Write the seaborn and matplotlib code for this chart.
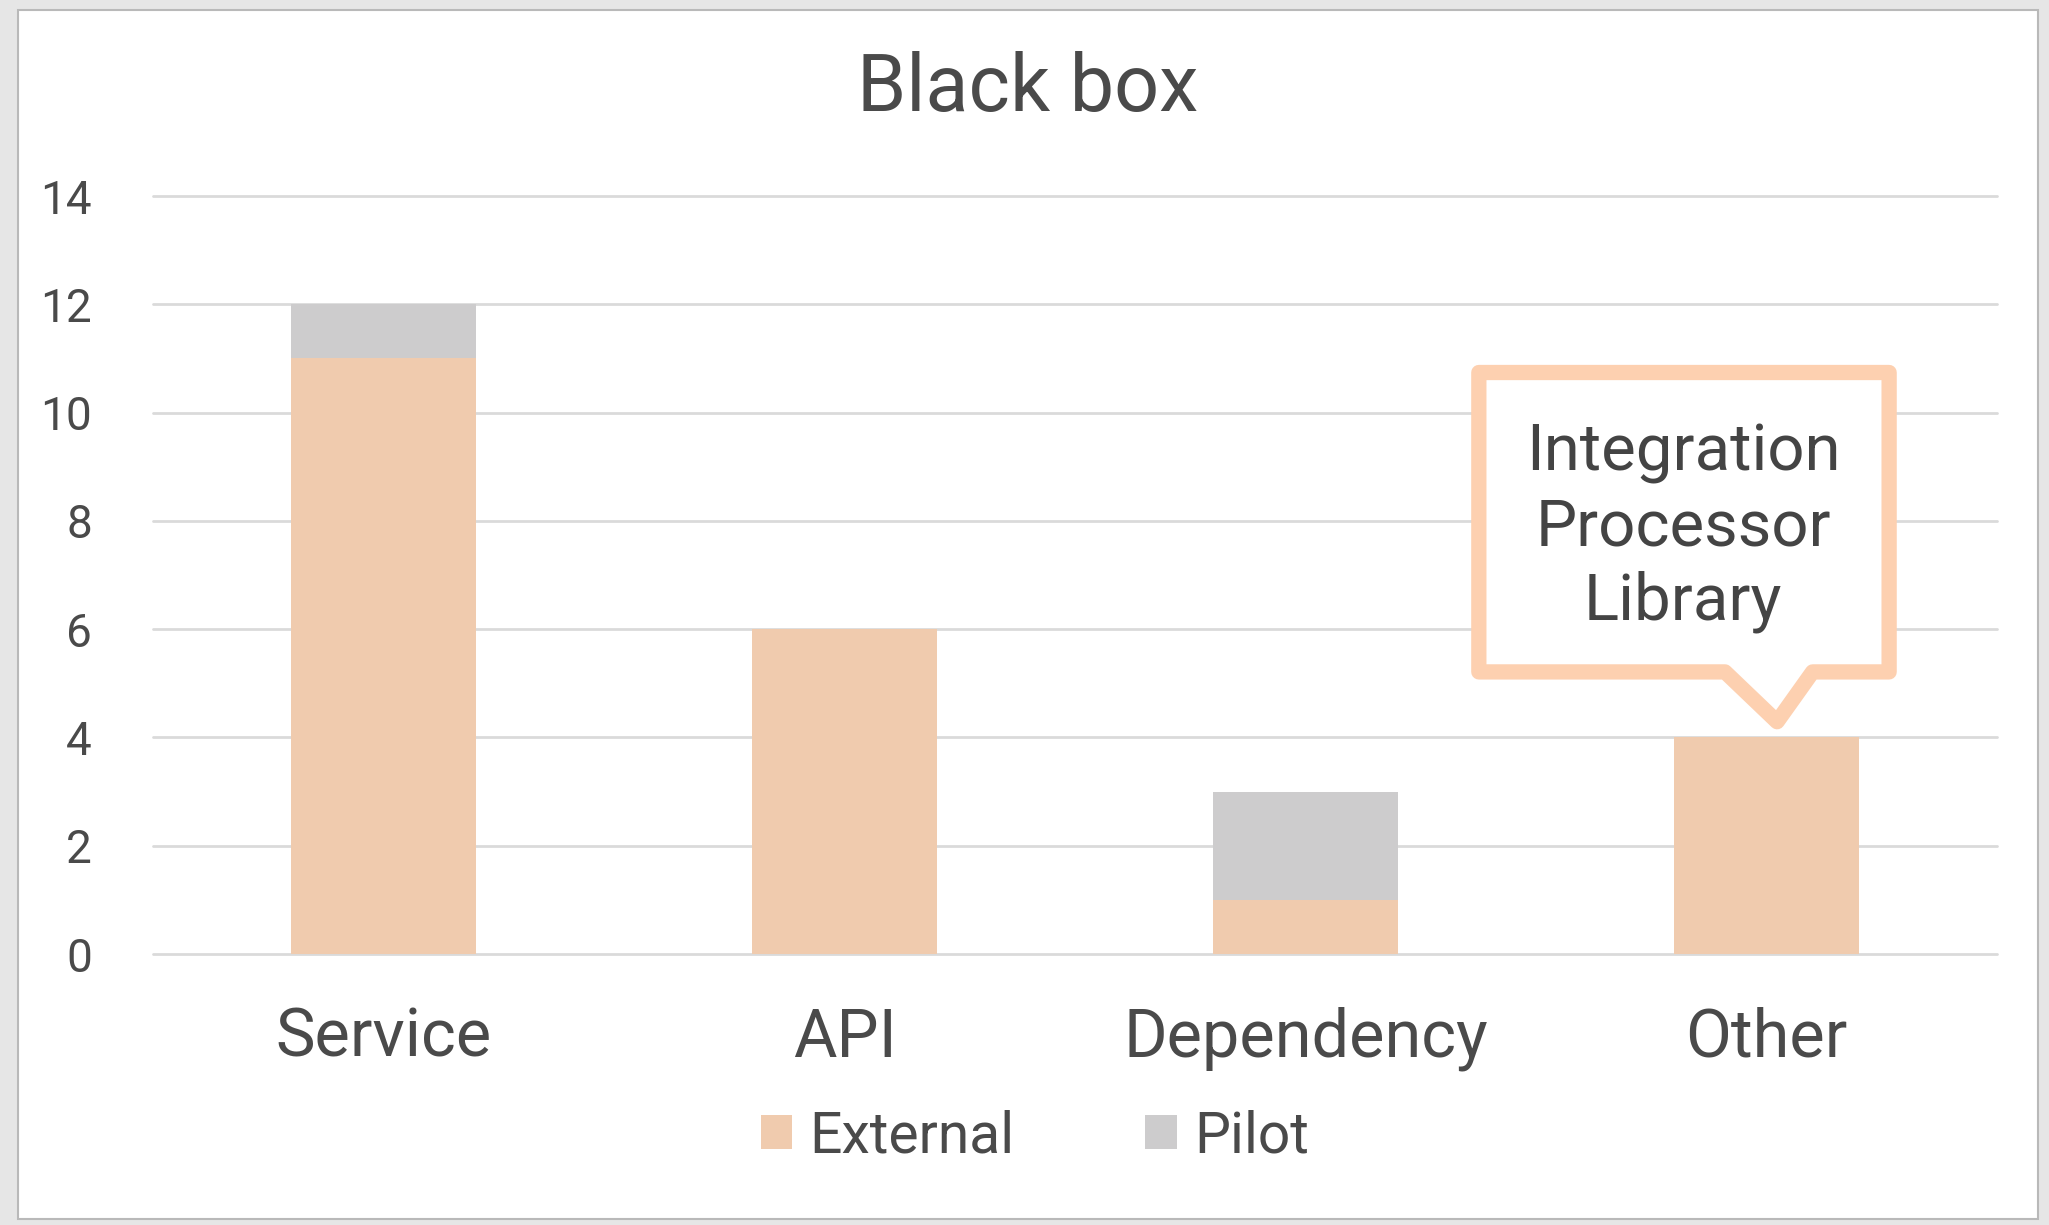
import matplotlib
matplotlib.use("Agg")
import matplotlib.pyplot as plt
import seaborn as sns
import pandas as pd
from matplotlib.patches import Rectangle, Polygon, Patch

categories = ["Service", "API", "Dependency", "Other"]
external = [11, 6, 1, 4]
pilot = [1, 0, 2, 0]
yticks = [0, 2, 4, 6, 8, 10, 12, 14]
title = "Black box"
callout_text = "Integration\nProcessor\nLibrary"

EXT_C = "#f0cbae"
PIL_C = "#cdcccd"
TXT_C = "#4a4a4a"
GRID_C = "#dadada"

sns.set_theme(style="white")
plt.rcParams['font.family'] = ['Roboto', 'DejaVu Sans']

df = pd.DataFrame({"category": categories, "External": external, "Pilot": pilot})
df["Total"] = df["External"] + df["Pilot"]

fig = plt.figure(figsize=(20.49, 12.25), dpi=100)
fig.patch.set_facecolor("#e6e6e6")
bg = Rectangle((18/2049, 1-1219/1225), (2038-18)/2049, (1219-10)/1225,
               transform=fig.transFigure, facecolor="white",
               edgecolor="#b9b9b9", linewidth=1.5, zorder=-10)
fig.patches.append(bg)

ax = fig.add_axes([153/2049, 1-954/1225, (1997-153)/2049, (954-196)/1225])
ax.set_facecolor("none")
ax.set_zorder(1)

sns.barplot(data=df, x="category", y="Total", color=PIL_C, width=0.4,
            saturation=1, ax=ax, zorder=3, linewidth=0, edgecolor="none")
sns.barplot(data=df, x="category", y="External", color=EXT_C, width=0.4,
            saturation=1, ax=ax, zorder=4, linewidth=0, edgecolor="none")

ax.set_xlim(-0.5, 3.5)
ax.set_ylim(0, 14)
ax.set_yticks(yticks)
ax.set_yticklabels([str(v) for v in yticks])
for y in yticks:
    ax.axhline(y, color=GRID_C, linewidth=2, zorder=1, clip_on=False)
for s in ax.spines.values():
    s.set_visible(False)
ax.set_xlabel("")
ax.set_ylabel("")
ax.tick_params(axis="y", length=0, pad=44, labelsize=33, labelcolor=TXT_C)
ax.tick_params(axis="x", length=0, pad=38, labelsize=48, labelcolor=TXT_C)

fig.text(1028/2049, 1-89/1225, title, ha="center", va="center",
         fontsize=57, color=TXT_C)

# callout
poly = Polygon([(2.376, 10.74), (3.266, 10.74), (3.266, 5.21), (3.10, 5.21),
                (3.023, 4.29), (2.91, 5.21), (2.376, 5.21)], closed=True,
               facecolor="white", edgecolor="#fdd0b0", linewidth=11,
               joinstyle="round", zorder=6, clip_on=False)
ax.add_patch(poly)
ax.text(2.819, 7.88, callout_text, ha="center", va="center", fontsize=47,
        color="#444444", linespacing=1.25, zorder=7)

handles = [Patch(facecolor=EXT_C, edgecolor="none", label="External"),
           Patch(facecolor=PIL_C, edgecolor="none", label="Pilot")]
leg = fig.legend(handles=handles, loc="center", bbox_to_anchor=(0.505, 0.072),
                 ncol=2, frameon=False, fontsize=41, handlelength=0.55,
                 handleheight=0.55, handletextpad=0.3, columnspacing=2.3)
for t in leg.get_texts():
    t.set_color(TXT_C)

fig.savefig("out.png", dpi=100, facecolor=fig.get_facecolor())
